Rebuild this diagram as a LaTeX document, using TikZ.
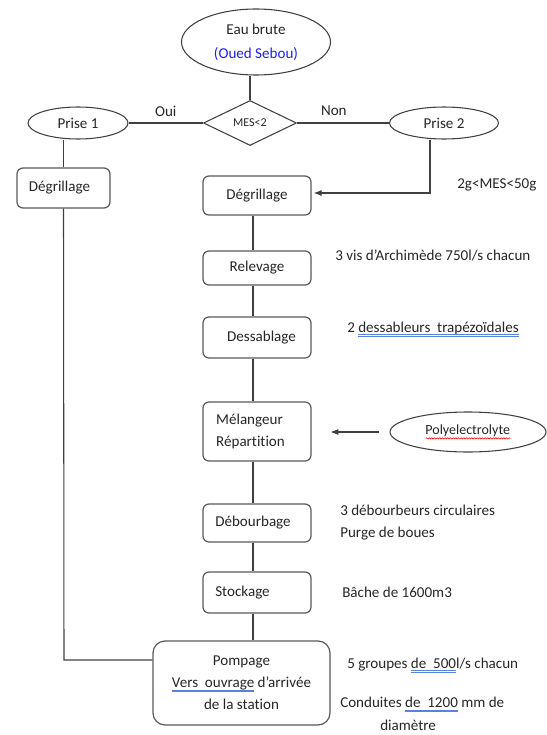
\documentclass[tikz,border=0pt]{standalone}
\usepackage{fontspec}
\setmainfont{Carlito}[Ligatures=NoCommon]
\usetikzlibrary{shapes.geometric,arrows.meta,decorations.pathmorphing}
\definecolor{linec}{RGB}{64,64,64}
\definecolor{ulblue}{RGB}{90,130,220}
\definecolor{oued}{RGB}{30,30,250}
\newsavebox\myulbox
\newcommand\blueuu[1]{\sbox\myulbox{#1}\leavevmode\rlap{\usebox\myulbox}\rlap{\raisebox{-2.2pt}{\textcolor{ulblue}{\rule{\wd\myulbox}{0.5pt}}}}\raisebox{-3.2pt}{\textcolor{ulblue}{\rule{\wd\myulbox}{0.5pt}}}}
\newcommand\redwave[1]{\sbox\myulbox{#1}\leavevmode\rlap{\usebox\myulbox}\raisebox{-3pt}{\tikz[baseline=0pt]\draw[red, line width=0.4pt, decorate, decoration={snake, amplitude=0.5pt, segment length=2pt}] (0pt,0pt) -- (\wd\myulbox,0pt);}}
\tikzset{
  every node/.style={font=\fontsize{11.3}{13}\selectfont, text=black!85},
  conn/.style={draw=linec, line width=0.8pt},
  arr/.style={conn, -{Latex[length=6pt,width=4.5pt]}},
  procbox/.style={draw=black!65, line width=0.9pt, rounded corners=4.5pt, minimum width=81pt, inner sep=0pt},
  oval/.style={ellipse, draw=black!75, line width=0.8pt, inner sep=0pt},
  note/.style={anchor=west, inner sep=0pt},
}
\begin{document}
\begin{tikzpicture}[x=0.75pt, y=-0.75pt]
\useasboundingbox (0,0) rectangle (546,735);
% nodes
\node[oval, minimum width=111.75pt, minimum height=49.5pt, align=center, font=\fontsize{11.3}{18}\selectfont] (eau) at (256,42) {Eau brute\\\textcolor{oued}{(Oued Sebou)}};
\node[diamond, draw=black!75, line width=0.8pt, minimum width=69.75pt, minimum height=33.75pt, aspect=2.07, inner sep=0pt, font=\fontsize{9}{11}\selectfont] (mes) at (250,123) {MES<2};
\node[oval, minimum width=75pt, minimum height=24pt] (prise1) at (78,123) {Prise 1};
\node[oval, minimum width=81.75pt, minimum height=24pt] (prise2) at (444,123) {Prise 2};
\node[procbox, minimum width=69.75pt, minimum height=30pt] (degL) at (63.5,188) {Dégrillage\hspace*{6pt}};
\node[procbox, minimum height=29.25pt] (degR) at (257,195.5) {Dégrillage};
\node[procbox, minimum height=25.5pt] (rel) at (257,268) {Relevage};
\node[procbox, minimum height=30.75pt] (dess) at (257,337.5) {\hspace*{6.75pt}Dessablage};
\node[procbox, minimum height=44.25pt, align=left, font=\fontsize{11.3}{16.5}\selectfont] (mel) at (257,431.5) {Mélangeur\\Répartition\hspace*{9.75pt}};
\node[procbox, minimum height=28.5pt] (deb) at (257,523) {Débourbage\hspace*{6pt}};
\node[procbox, minimum height=30.75pt] (stock) at (257,592.5) {Stockage\hspace*{21.75pt}};
\node[procbox, minimum width=132.75pt, minimum height=63pt, rounded corners=9pt, align=center, font=\fontsize{11.3}{16.5}\selectfont] (pomp) at (241.5,683) {Pompage\\\blueuu{Vers\ \ ouvrage} d’arrivée\\de la station};
\node[oval, minimum width=117pt, minimum height=30pt, font=\fontsize{10.5}{12}\selectfont] (poly) at (468,432) {\redwave{Polyelectrolyte}};
% notes
\node[note] (n2g) at (457,185) {2g<MES<50g};
\node[note] (nvis) at (335,256) {3 vis d’Archimède 750l/s chacun};
\node[note] (ndess) at (347,329) {2 \blueuu{dessableurs\ \ trapézoïdales}};
\node[note, align=left, font=\fontsize{11.3}{16}\selectfont] (ndeb) at (340,522.5) {3 débourbeurs circulaires\\Purge de boues};
\node[note] (nbache) at (342,592) {Bâche de 1600m3};
\node[note] (ngr) at (347,665) {5 groupes \blueuu{de\ \ 500}l/s chacun};
\node[note, align=left, font=\fontsize{11.3}{17}\selectfont] (ncond) at (340,713.5) {Conduites \blueuu{de\ \ 1200} mm de\\\hspace*{30pt}diamètre};
% helper coordinates
\coordinate (col) at (253,0);
\coordinate (p2) at (430,193);
\coordinate (lc) at (64,660);
% connectors
\draw[conn] (mes.north) -- (mes.north |- eau.south);
\draw[conn] (prise1.east) -- node[midway, yshift=9pt, inner sep=0pt] (oui) {Oui} (mes.west);
\draw[conn] (mes.east) -- node[pos=0.4, yshift=9pt, inner sep=0pt] (non) {Non} (prise2.west);
\draw[conn] (degL.north) -- (degL.north |- prise1.south);
\draw[conn] (degL.south) -- (lc) -- (lc -| pomp.west);
\draw[arr, shorten >=1.5pt] (p2 |- prise2.south) -- (p2) -- (p2 -| degR.east);
\draw[conn] (degR.south -| col) -- (rel.north -| col);
\draw[conn] (rel.south -| col) -- (dess.north -| col);
\draw[conn] (dess.south -| col) -- (mel.north -| col);
\draw[conn] (mel.south -| col) -- (deb.north -| col);
\draw[conn] (deb.south -| col) -- (stock.north -| col);
\draw[conn] (stock.south -| col) -- (pomp.north -| col);
\draw[arr, shorten <=7.5pt, shorten >=14pt] (poly.west) -- (poly.west -| mel.east);
\end{tikzpicture}
\end{document}
